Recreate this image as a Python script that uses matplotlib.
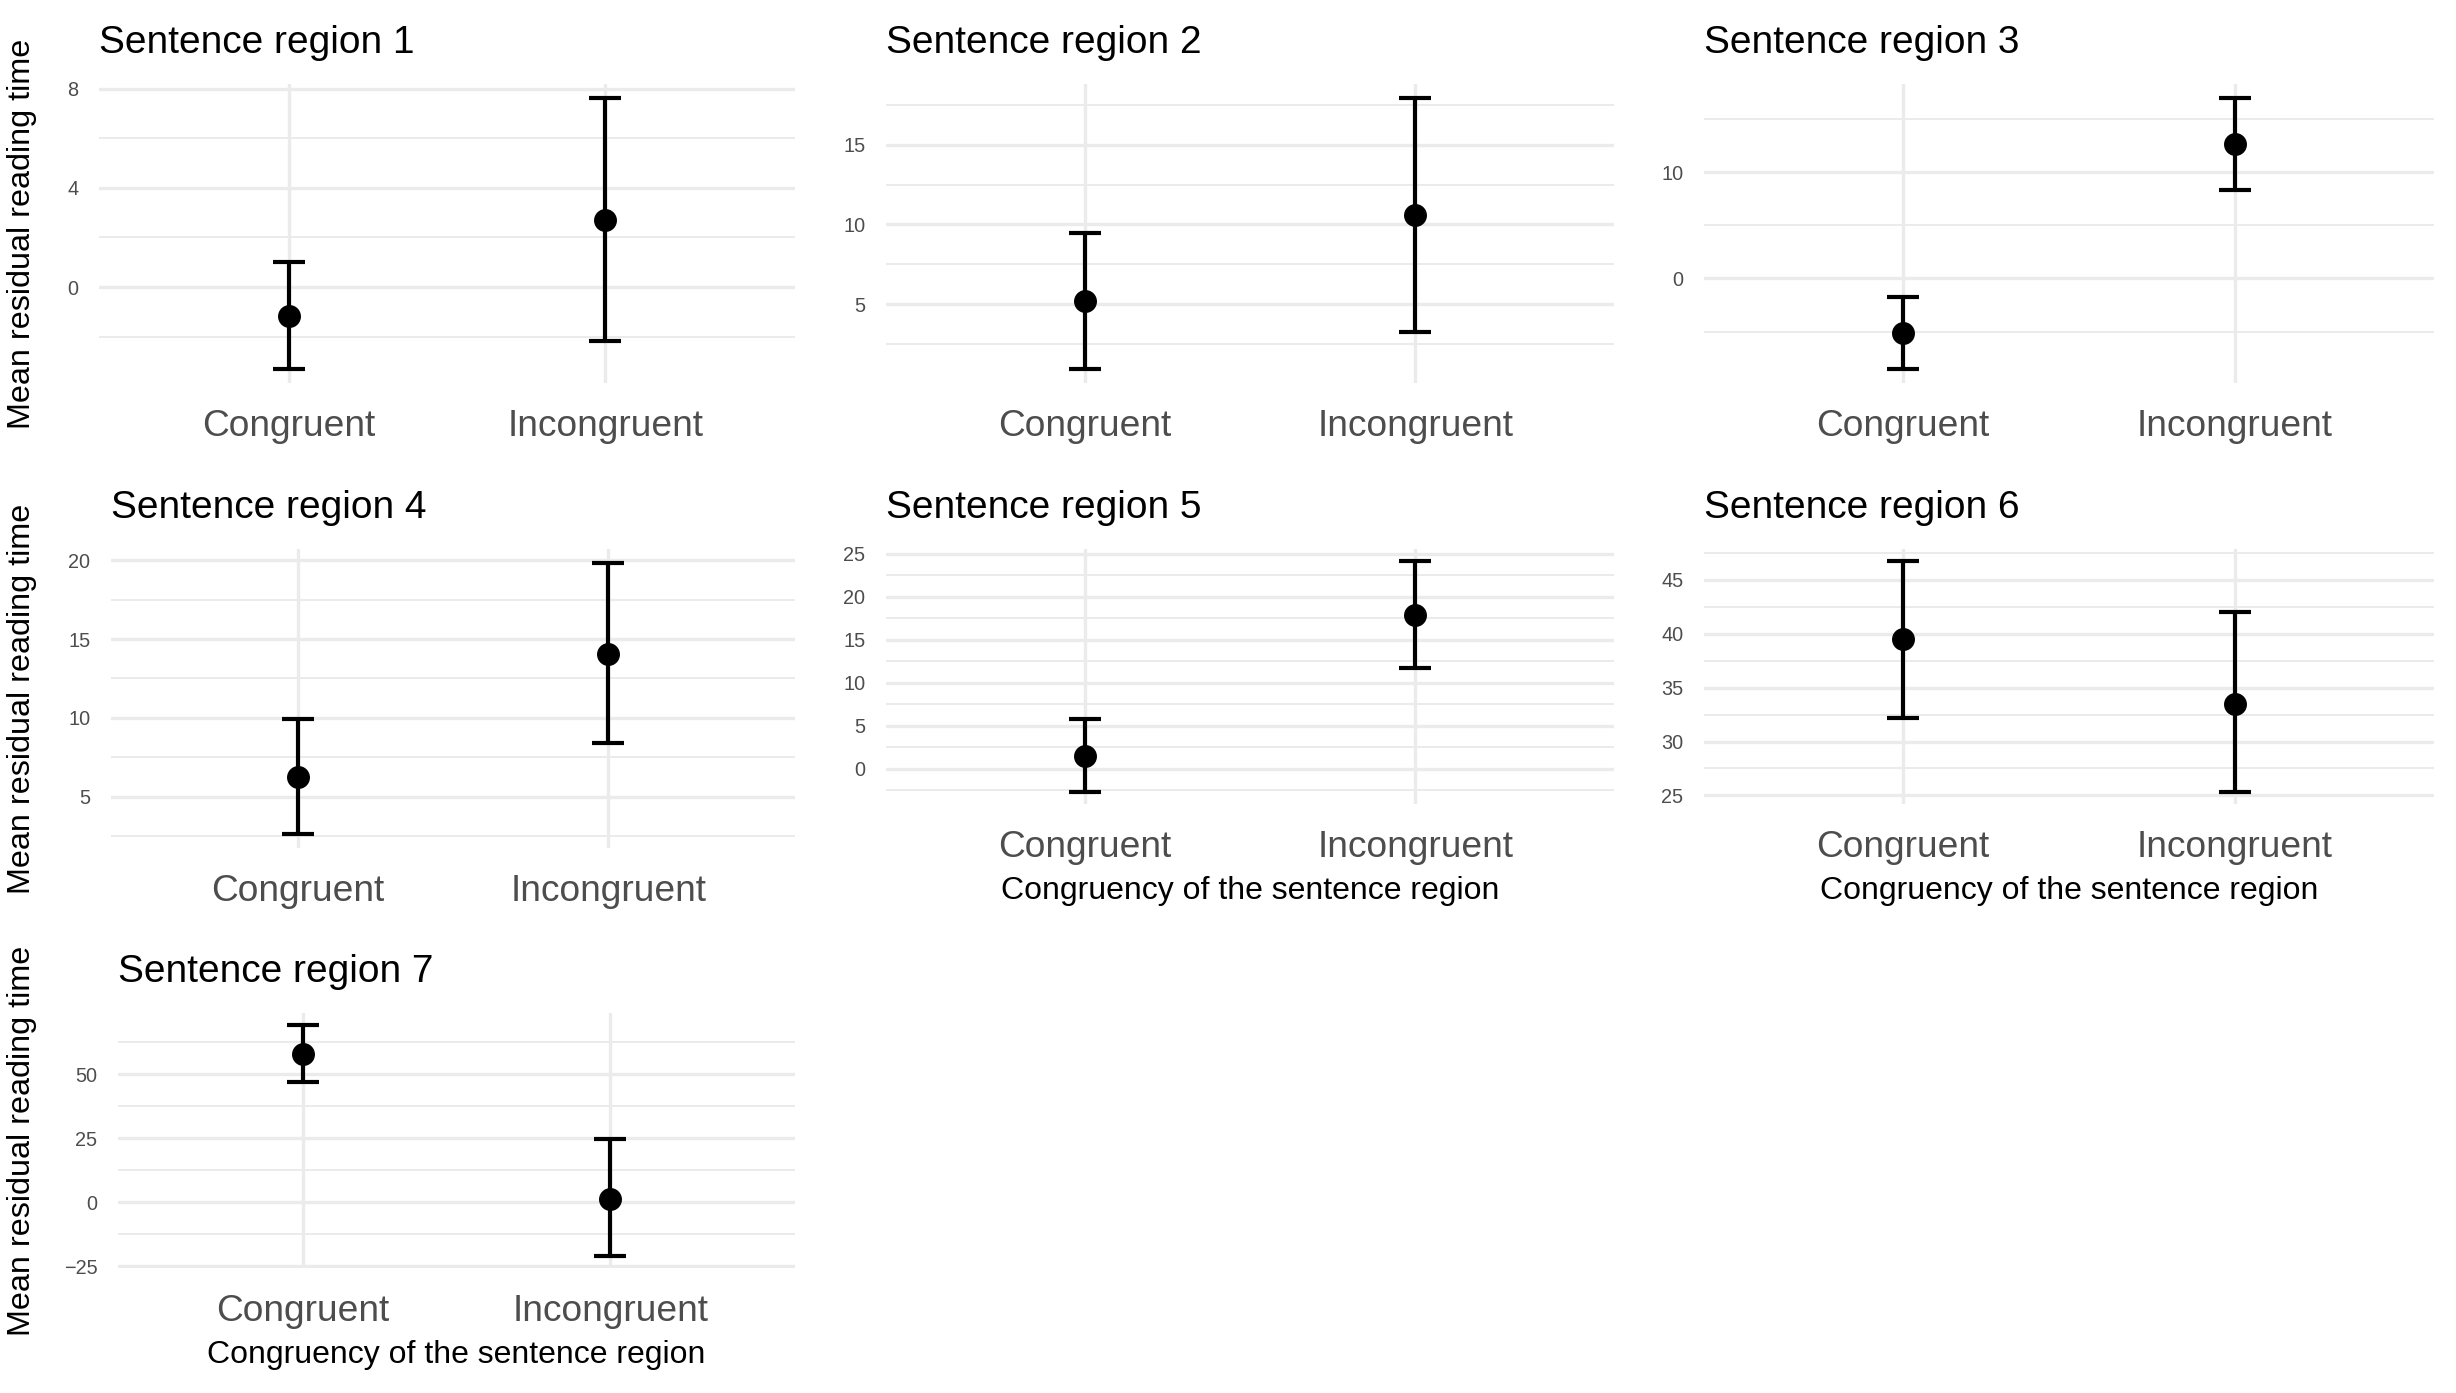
import matplotlib
matplotlib.use("Agg")
import matplotlib.pyplot as plt
from matplotlib.ticker import MultipleLocator
import numpy as np

# ---- data ----
regions = ["Sentence region 1", "Sentence region 2", "Sentence region 3",
           "Sentence region 4", "Sentence region 5", "Sentence region 6",
           "Sentence region 7"]
conditions = ["Congruent", "Incongruent"]
mean_congruent = [-1.16, 5.17, -5.16, 6.22, 1.51, 39.5, 58.07]
lower_congruent = [-3.32, 0.90, -8.56, 2.60, -2.74, 32.2, 46.9]
upper_congruent = [1.02, 9.44, -1.72, 9.94, 5.83, 46.8, 69.4]
mean_incongruent = [2.72, 10.56, 12.66, 14.07, 17.88, 33.5, 1.3]
lower_incongruent = [-2.16, 3.23, 8.31, 8.42, 11.74, 25.28, -21.1]
upper_incongruent = [7.64, 17.96, 17.03, 19.85, 24.2, 42.0, 24.6]
major_step = [4, 5, 10, 5, 5, 5, 25]

ylabel_text = "Mean residual reading time"
xlabel_text = "Congruency of the sentence region"

plt.rcParams['font.family'] = ['Liberation Sans', 'DejaVu Sans']

W, H = 2456, 1393
fig = plt.figure(figsize=(W / 100, H / 100), dpi=100)
fig.patch.set_facecolor("white")

# panel pixel boxes: (left, top, right, bottom)
boxes = [
    (99, 84, 795, 383),
    (886, 84, 1614, 383),
    (1704, 84, 2434, 383),
    (111, 549, 795, 848),
    (886, 549, 1614, 804),
    (1704, 549, 2434, 804),
    (118, 1013, 795, 1268),
]
show_ylabel = [True, False, False, True, False, False, True]
show_xlabel = [False, False, False, False, True, True, True]

grey = "#4D4D4D"
grid_c = "#EBEBEB"

for i in range(7):
    l, t, r, b = boxes[i]
    ax = fig.add_axes([l / W, 1 - b / H, (r - l) / W, (b - t) / H])
    ax.set_facecolor("white")
    for s in ax.spines.values():
        s.set_visible(False)
    x = np.arange(1, len(conditions) + 1)
    means = np.array([mean_congruent[i], mean_incongruent[i]])
    lows = np.array([lower_congruent[i], lower_incongruent[i]])
    ups = np.array([upper_congruent[i], upper_incongruent[i]])
    ax.errorbar(x, means, yerr=[means - lows, ups - means], fmt='o',
                color='black', ms=15.5, elinewidth=3, capsize=11.5,
                capthick=3, zorder=3)
    ax.set_xlim(0.4, 2.6)
    lo, hi = lows.min(), ups.max()
    rng = hi - lo
    ax.set_ylim(lo - 0.05 * rng, hi + 0.05 * rng)
    ax.set_xticks(x)
    ax.set_xticklabels(conditions)
    ax.yaxis.set_major_locator(MultipleLocator(major_step[i]))
    ax.yaxis.set_minor_locator(MultipleLocator(major_step[i] / 2))
    ax.set_axisbelow(True)
    ax.grid(which='major', axis='both', color=grid_c, lw=2.4)
    ax.grid(which='minor', axis='y', color=grid_c, lw=1.4)
    ax.tick_params(which='both', length=0)
    ax.tick_params(axis='y', labelsize=14.3, labelcolor=grey, pad=15)
    ax.tick_params(axis='x', labelsize=26.7, labelcolor=grey, pad=19)
    ax.set_title(regions[i], loc='left', fontsize=28, color='black', pad=22)
    if show_ylabel[i]:
        ax.set_ylabel(ylabel_text, fontsize=23.3, color='black')
        ax.yaxis.set_label_coords((37 - l) / (r - l), 0.5)
    if show_xlabel[i]:
        ax.set_xlabel(xlabel_text, fontsize=23, color='black', labelpad=7.5)

fig.savefig("out.png", dpi=100, facecolor="white")
